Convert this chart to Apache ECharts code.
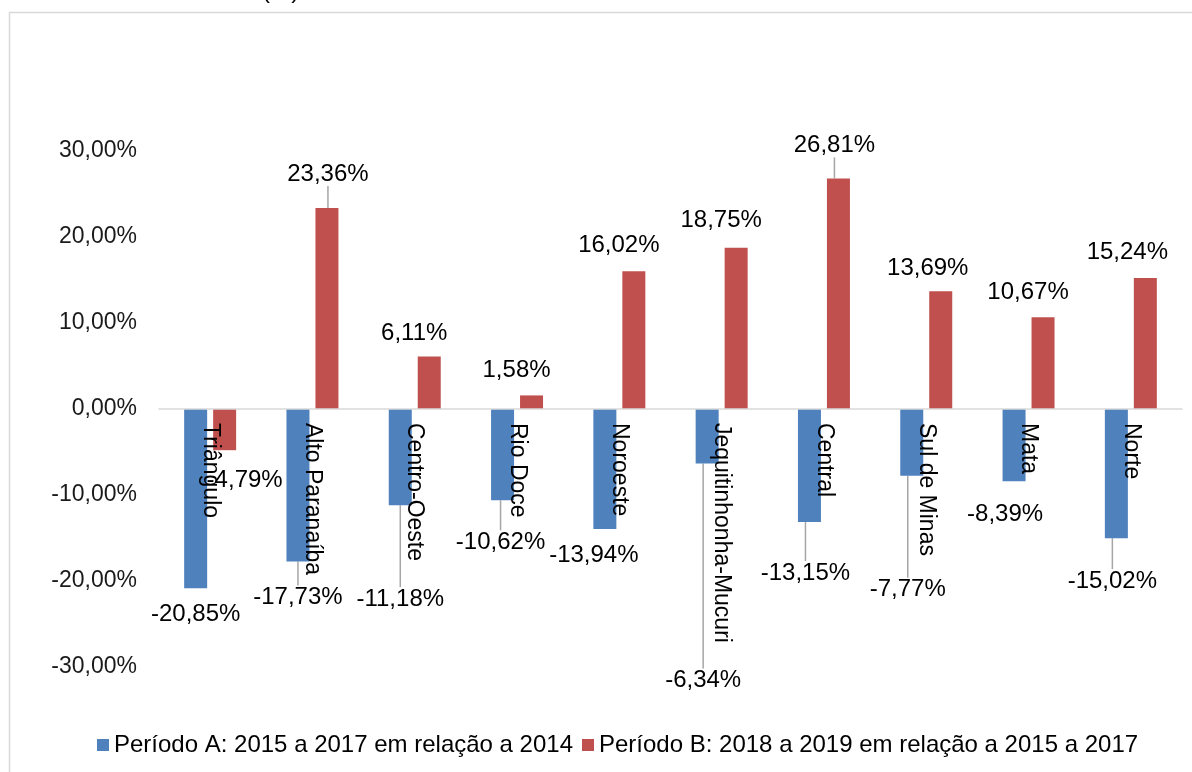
<!DOCTYPE html>
<html>
<head>
<meta charset="utf-8">
<script src="https://cdn.jsdelivr.net/npm/echarts@6/dist/echarts.min.js"></script>
<style>
  html, body { margin: 0; padding: 0; background: #fff; }
  #chart { width: 1192px; height: 772px; }
</style>
</head>
<body>
<div id="chart"></div>
<script>
// dados
var regioes = ['Triângulo', 'Alto Paranaíba', 'Centro-Oeste', 'Rio Doce', 'Noroeste', 'Jequitinhonha-Mucuri', 'Central', 'Sul de Minas', 'Mata', 'Norte'];
var periodoA = [-20.85, -17.73, -11.18, -10.62, -13.94, -6.34, -13.15, -7.77, -8.39, -15.02];
var periodoB = [-4.79, 23.36, 6.11, 1.58, 16.02, 18.75, 26.81, 13.69, 10.67, 15.24];
var nomesSeries = ['Período A: 2015 a 2017 em relação a 2014', 'Período B: 2018 a 2019 em relação a 2015 a 2017'];
var yTicks = { min: -30, max: 30, interval: 10 };

// deslocamento dos rótulos (como no original do Excel)
var shiftA = [[0, 0], [0, 10], [0, 68], [-2, 16], [-11, 0], [-4, 191], [-4, 25], [-4, 88], [-9, 7], [-4, 17]];
var shiftB = [[20, 4], [1, -8], [-15, 3], [-15, 1], [-15, 0], [-15, -1], [-4, -7], [-13, 3], [-15, 1], [-18, 0]];
var lineA = [false, true, true, true, false, true, true, true, false, true];
var lineB = [false, true, false, false, false, false, true, false, false, false];

var FONT = '"Liberation Sans", Arial, sans-serif';
var colors = ['#4f81bd', '#c0504d'];
var gridH = 516; // altura da área do gráfico

function pct(v) {
	return v.toFixed(2).replace('.', ',') + '%';
}

function buildItems(values, lines) {
	var arr = [];
	for (var i = 0; i < values.length; i++) {
		arr.push({
			value: values[i],
			label: { position: values[i] < 0 ? 'bottom' : 'top' },
			labelLine: { show: lines[i] }
		});
	}
	return arr;
}

function seriesOpt(name, values, lines, shift) {
	return {
		name: name,
		type: 'bar',
		barWidth: 23,
		barGap: '26%',
		data: buildItems(values, lines),
		label: {
			show: true,
			distance: 14,
			fontFamily: FONT,
			fontSize: 24,
			color: '#000',
			formatter: function(p) { return pct(p.value); }
		},
		labelLine: {
			lineStyle: { color: '#a6a6a6', width: 1.5 }
		},
		labelLayout: function(p) {
			var s = shift[p.dataIndex];
			return { dx: s[0], dy: s[1] };
		}
	};
}

var chart = echarts.init(document.getElementById('chart'));
chart.setOption({
	color: colors,
	animation: false,
	textStyle: { fontFamily: FONT },
	graphic: [{
		type: 'rect',
		shape: { x: 9.5, y: 12.5, width: 1300, height: 900 },
		style: { fill: 'none', stroke: '#d9d9d9', lineWidth: 1.5 },
		silent: true
	}, {
		type: 'text',
		left: 262,
		top: -21,
		style: { text: '(%)', fontFamily: FONT, fontSize: 24, fill: '#000' }
	}],
	grid: {
		left: 159,
		right: 10,
		top: 151,
		height: gridH,
		outerBoundsMode: 'none',
		containLabel: false
	},
	legend: {
		data: nomesSeries,
		left: 92,
		top: 728,
		icon: 'rect',
		itemWidth: 12,
		itemHeight: 12,
		itemGap: 9,
		textStyle: { fontFamily: FONT, fontSize: 24, color: '#000' }
	},
	xAxis: {
		type: 'category',
		data: regioes,
		z: 10,
		// eixo deslocado para a linha do zero (centro do gráfico)
		offset: -gridH / 2,
		axisLine: { onZero: false, lineStyle: { color: '#d9d9d9', width: 1.5 } },
		axisTick: { show: false },
		axisLabel: {
			interval: 0,
			rotate: -90,
			margin: 14,
			fontFamily: FONT,
			fontSize: 23,
			color: '#000'
		}
	},
	yAxis: {
		type: 'value',
		min: yTicks.min,
		max: yTicks.max,
		interval: yTicks.interval,
		axisLine: { show: false },
		axisTick: { show: false },
		splitLine: { show: false },
		axisLabel: {
			margin: 22,
			fontFamily: FONT,
			fontSize: 23,
			color: '#1a1a1a',
			formatter: function(v) { return pct(v); }
		}
	},
	series: [
		seriesOpt(nomesSeries[0], periodoA, lineA, shiftA),
		seriesOpt(nomesSeries[1], periodoB, lineB, shiftB)
	]
});
</script>
</body>
</html>
